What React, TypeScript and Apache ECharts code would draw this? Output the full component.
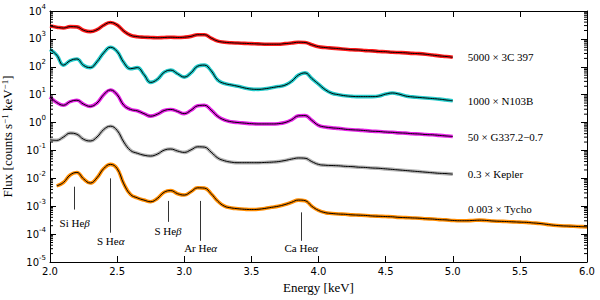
import React, { useEffect, useRef } from "react";
import * as echarts from "echarts";

// Energy grid [keV]
const energies = [
  2.0, 2.05, 2.1, 2.15, 2.2, 2.25, 2.3, 2.35, 2.4, 2.45, 2.5, 2.55, 2.6, 2.65, 2.7, 2.75, 2.8, 2.85, 2.9, 2.95,
  3.0, 3.05, 3.1, 3.15, 3.2, 3.25, 3.3, 3.35, 3.4, 3.45, 3.5, 3.55, 3.6, 3.65, 3.7, 3.75, 3.8, 3.85, 3.9, 3.95,
  4.0, 4.05, 4.1, 4.15, 4.2, 4.25, 4.3, 4.35, 4.4, 4.45, 4.5, 4.55, 4.6, 4.65, 4.7, 4.75, 4.8, 4.85, 4.9, 4.95,
  5.0, 5.05, 5.1, 5.15, 5.2, 5.25, 5.3, 5.35, 5.4, 5.45, 5.5, 5.55, 5.6, 5.65, 5.7, 5.75, 5.8, 5.85, 5.9, 5.95,
  6.0,
];

// log10 of scaled flux
const log3C397 = [
  3.46, 3.42, 3.39, 3.44, 3.43, 3.31, 3.26, 3.33, 3.49, 3.59, 3.5, 3.28, 3.13, 3.08, 3.06, 3.05, 3.04, 3.05, 3.06, 3.05,
  3.06, 3.09, 3.15, 3.15, 3.03, 2.92, 2.88, 2.86, 2.85, 2.84, 2.83, 2.82, 2.81, 2.81, 2.81, 2.83, 2.85, 2.88, 2.87, 2.79,
  2.72, 2.69, 2.67, 2.65, 2.63, 2.61, 2.6, 2.58, 2.57, 2.55, 2.54, 2.52, 2.51, 2.5, 2.48, 2.47, 2.45, 2.42, 2.39, 2.37,
  2.34,
];
const logN103B = [
  2.62, 2.42, 2.06, 2.22, 2.28, 2.05, 1.97, 2.18, 2.5, 2.7, 2.55, 2.15, 1.93, 1.97, 1.72, 1.44, 1.55, 1.8, 1.88, 1.75,
  1.63, 1.78, 2.02, 2.06, 1.86, 1.52, 1.4, 1.35, 1.3, 1.24, 1.2, 1.19, 1.21, 1.25, 1.29, 1.34, 1.48, 1.7, 1.78, 1.58,
  1.38, 1.18, 1.05, 1.0, 0.96, 0.94, 0.93, 0.93, 0.93, 0.95, 1.02, 1.06, 1.02, 0.95, 0.92, 0.9, 0.88, 0.86, 0.84, 0.81,
  0.78,
];
const logG337 = [
  0.92, 0.72, 0.62, 0.75, 0.8, 0.66, 0.58, 0.7, 1.0, 1.17, 1.0, 0.62, 0.47, 0.42, 0.32, 0.23, 0.3, 0.43, 0.47, 0.4,
  0.32, 0.44, 0.6, 0.62, 0.45, 0.22, 0.09, 0.03, 0.0, -0.02, -0.04, -0.05, -0.05, -0.05, -0.04, 0.0, 0.1, 0.24, 0.25, 0.08,
  -0.1, -0.16, -0.19, -0.21, -0.24, -0.26, -0.27, -0.29, -0.31, -0.32, -0.34, -0.35, -0.37, -0.38, -0.4, -0.41, -0.43, -0.44, -0.46, -0.48,
  -0.5,
];
const logKepler = [
  -0.62, -0.64, -0.52, -0.38, -0.42, -0.6, -0.66, -0.52, -0.25, -0.13, -0.28, -0.7, -1.0, -1.1, -1.17, -1.2, -1.13, -0.99, -0.95, -1.02,
  -1.07, -0.98, -0.87, -0.88, -1.06, -1.27, -1.37, -1.42, -1.44, -1.44, -1.44, -1.44, -1.43, -1.42, -1.4, -1.36, -1.31, -1.27, -1.28, -1.4,
  -1.5, -1.53, -1.54, -1.55, -1.57, -1.58, -1.6, -1.61, -1.63, -1.64, -1.66, -1.68, -1.7, -1.72, -1.74, -1.76, -1.78, -1.8, -1.82, -1.83,
  -1.85,
];
const logTycho = [
  null, -2.27, -2.15, -1.88, -1.79, -2.02, -2.17, -1.98, -1.65, -1.5, -1.65, -2.2, -2.58, -2.7, -2.78, -2.84, -2.72, -2.5, -2.44, -2.55,
  -2.6, -2.48, -2.34, -2.35, -2.55, -2.82, -3.0, -3.06, -3.09, -3.11, -3.12, -3.11, -3.08, -3.04, -3.0, -2.94, -2.86, -2.78, -2.8, -3.0,
  -3.15, -3.23, -3.26, -3.28, -3.29, -3.31, -3.32, -3.33, -3.35, -3.36, -3.37, -3.38, -3.4, -3.41, -3.42, -3.43, -3.45, -3.46, -3.48, -3.49,
  -3.51, -3.52, -3.52, -3.51, -3.5, -3.51, -3.53, -3.54, -3.55, -3.56, -3.57, -3.58, -3.6, -3.62, -3.65, -3.68, -3.7, -3.71, -3.72, -3.73,
  -3.74,
];

const spectrumLabels = ["5000 × 3C 397", "1000 × N103B", "50 × G337.2−0.7", "0.3 × Kepler", "0.003 × Tycho"];
const spectrumColors = ["#ff1a1a", "#22c8c8", "#e622e6", "#b4b4b4", "#ff8c00"];
const spectrumValues = [log3C397, logN103B, logG337, logKepler, logTycho];

// Tycho label anchor (energy, log flux)
const tychoLabelAnchor = [5.114, -3.1];

// Line identifications
const lineNames = ["Si He{g|β}", "S He{g|α}", "S He{g|β}", "Ar He{g|α}", "Ca He{g|α}"];
const lineEnergies = [2.184, 2.452, 2.879, 3.122, 3.872];
const lineTopLog = [-2.3, -2.0, -2.81, -2.81, -3.22];
const lineBottomLog = [-3.12, -3.95, -3.56, -4.24, -4.24];
const lineLabelGap = [8, 3, 4, 2, 2];

// Axis ticks
const yMinorDecades = [-5, -4, -3, -2, -1, 0, 1, 2, 3];
const yMinorMultipliers = [2, 3, 4, 5, 6, 7, 8, 9];

const serif = "Liberation Serif";
const sans = "DejaVu Sans";

function toPoints(vals: (number | null)[]) {
  const out: [number, number][] = [];
  vals.forEach((v, i) => {
    if (v !== null && v !== undefined) out.push([energies[i], Math.pow(10, v)]);
  });
  return out;
}

export default function App() {
  const ref = useRef<HTMLDivElement>(null);

  useEffect(() => {
    if (!ref.current) return;
    const chart = echarts.init(ref.current, undefined, { renderer: "svg" });

    const series: any[] = [];
    spectrumValues.forEach((vals, k) => {
      const pts = toPoints(vals);
      const isTycho = k === 4;
      series.push({
        type: "line",
        name: spectrumLabels[k] + " data",
        data: pts,
        smooth: 0.45,
        symbol: "none",
        lineStyle: { color: spectrumColors[k], width: 3.6 },
        z: 2,
        silent: true,
      });
      const model: any = {
        type: "line",
        name: spectrumLabels[k],
        data: pts,
        smooth: 0.45,
        symbol: "none",
        lineStyle: { color: "#000", width: 1 },
        z: 3,
        silent: true,
      };
      if (!isTycho) {
        model.endLabel = {
          show: true,
          formatter: spectrumLabels[k],
          distance: 15,
          fontFamily: serif,
          fontSize: 11,
          color: "#000",
        };
      } else {
        model.markPoint = {
          symbol: "circle",
          symbolSize: 0,
          silent: true,
          label: {
            show: true,
            position: "right",
            distance: 0,
            formatter: spectrumLabels[k],
            fontFamily: serif,
            fontSize: 11,
            color: "#000",
          },
          data: [{ coord: [tychoLabelAnchor[0], Math.pow(10, tychoLabelAnchor[1])] }],
        };
        model.markLine = {
          symbol: ["none", "none"],
          silent: true,
          animation: false,
          lineStyle: { color: "#333", width: 1, type: "solid" },
          data: lineNames.map((nm, i) => [
            { coord: [lineEnergies[i], Math.pow(10, lineTopLog[i])] },
            {
              coord: [lineEnergies[i], Math.pow(10, lineBottomLog[i])],
              label: {
                show: true,
                position: "end",
                distance: lineLabelGap[i],
                formatter: nm,
                fontFamily: serif,
                fontSize: 11,
                color: "#000",
                rich: { g: { fontFamily: serif, fontSize: 11, fontStyle: "italic", color: "#000" } },
              },
            },
          ]),
        };
      }
      series.push(model);
    });

    const minorVals: [number, number][] = [];
    yMinorDecades.forEach((d) => yMinorMultipliers.forEach((m) => minorVals.push([2, m * Math.pow(10, d)])));
    series.push({
      type: "custom",
      silent: true,
      clip: false,
      z: 10,
      data: minorVals,
      encode: { x: 0, y: 1 },
      renderItem: (_p: any, api: any) => {
        const v = api.value(1);
        const l = api.coord([2, v]);
        const r = api.coord([6, v]);
        return {
          type: "group",
          children: [
            { type: "line", shape: { x1: l[0], y1: l[1], x2: l[0] + 3, y2: l[1] }, style: { stroke: "#000", lineWidth: 1 } },
            { type: "line", shape: { x1: r[0] - 3, y1: r[1], x2: r[0], y2: r[1] }, style: { stroke: "#000", lineWidth: 1 } },
          ],
        };
      },
    });

    const axisLine = { show: true, onZero: false, lineStyle: { color: "#000", width: 1 } };
    const tick = { show: true, inside: true, length: 6, lineStyle: { color: "#000", width: 1 } };

    chart.setOption({
      animation: false,
      grid: { left: 50, right: 13, top: 11, bottom: 38, containLabel: false, outerBoundsMode: "none" },
      xAxis: [
        {
          type: "value",
          min: 2,
          max: 6,
          interval: 0.5,
          position: "bottom",
          axisLine,
          axisTick: tick,
          splitLine: { show: false },
          axisLabel: {
            formatter: (v: number) => v.toFixed(1),
            fontFamily: sans,
            fontSize: 10,
            color: "#000",
            margin: 4,
          },
          name: "Energy [keV]",
          nameLocation: "middle",
          nameGap: 19,
          nameTextStyle: { fontFamily: serif, fontSize: 13, color: "#000" },
        },
        {
          type: "value",
          min: 2,
          max: 6,
          interval: 0.5,
          position: "top",
          axisLine,
          axisTick: tick,
          splitLine: { show: false },
          axisLabel: { show: false },
        },
      ],
      yAxis: [
        {
          type: "log",
          logBase: 10,
          min: 1e-5,
          max: 1e4,
          position: "left",
          axisLine,
          axisTick: tick,
          splitLine: { show: false },
          axisLabel: {
            formatter: (v: number) => "10{s|" + Math.round(Math.log10(v)) + "}",
            fontFamily: sans,
            fontSize: 10,
            color: "#000",
            margin: 4,
            lineHeight: 16,
            rich: { s: { fontFamily: sans, fontSize: 7, lineHeight: 7, verticalAlign: "top", color: "#000" } },
          },
          name: "Flux [counts s{s|−1} keV{s|−1}]",
          nameLocation: "middle",
          nameGap: 18,
          nameTextStyle: {
            fontFamily: serif,
            fontSize: 13,
            color: "#000",
            lineHeight: 15,
            verticalAlign: "bottom",
            rich: { s: { fontFamily: serif, fontSize: 9, lineHeight: 8, verticalAlign: "top", color: "#000" } },
          },
        },
        {
          type: "log",
          logBase: 10,
          min: 1e-5,
          max: 1e4,
          position: "right",
          axisLine,
          axisTick: tick,
          splitLine: { show: false },
          axisLabel: { show: false },
        },
      ],
      series,
    });

    return () => chart.dispose();
  }, []);

  return <div ref={ref} style={{ width: 600, height: 300, position: "absolute", left: 0, top: 0 }} />;
}
